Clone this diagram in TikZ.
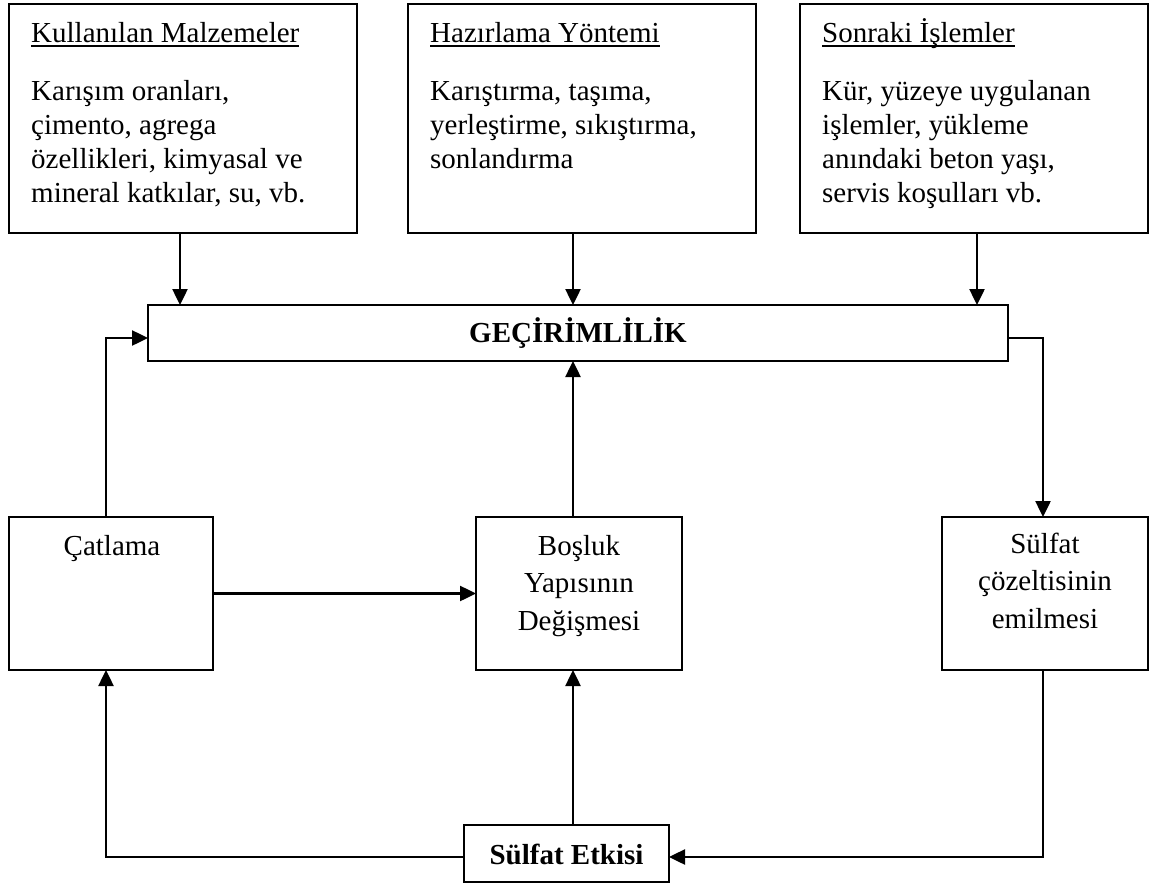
\documentclass[tikz,border=0pt]{standalone}
\usepackage{fontspec}
\setmainfont{Liberation Serif}
\usetikzlibrary{arrows.meta}
\newcommand\myul[1]{\setbox0\hbox{#1}\rlap{\rule[-4.5pt]{\wd0}{1.4pt}}\box0}
\tikzset{
  box/.style={draw=black, line width=1.6pt, rectangle, inner sep=0pt, outer sep=0pt},
  arr/.style={line width=2.5pt, -{Triangle[length=16pt,width=15pt]}},
  toptxt/.style={inner sep=0pt, anchor=north west, align=left, font=\fontsize{29}{34}\selectfont},
  midtxt/.style={inner sep=0pt, anchor=north, align=center, font=\fontsize{29}{37.5}\selectfont},
  boldtxt/.style={inner sep=0pt, anchor=base, font=\fontsize{29}{34}\selectfont\bfseries},
}
\begin{document}
\begin{tikzpicture}[x=1pt, y=-1pt]
\useasboundingbox (0,0) rectangle (1152,883);
% top boxes
\node[box, minimum width=348pt, minimum height=229pt] (m1) at (183,118.5) {};
\node[box, minimum width=348pt, minimum height=229pt] (m2) at (582,118.5) {};
\node[box, minimum width=348pt, minimum height=229pt] (m3) at (974,118.5) {};
\node[toptxt] (t1) at (31,16) {\rule{0pt}{26pt}\myul{Kullanılan Malzemeler}\\[24pt]
  Karışım oranları,\\çimento, agrega\\özellikleri, kimyasal ve\\mineral katkılar, su, vb.};
\node[toptxt] (t2) at (430,16) {\rule{0pt}{26pt}\myul{Hazırlama Yöntemi}\\[24pt]
  Karıştırma, taşıma,\\yerleştirme, sıkıştırma,\\sonlandırma};
\node[toptxt] (t3) at (822,16) {\rule{0pt}{26pt}\myul{Sonraki İşlemler}\\[24pt]
  Kür, yüzeye uygulanan\\işlemler, yükleme\\anındaki beton yaşı,\\servis koşulları vb.};
% central box
\node[box, minimum width=860pt, minimum height=56pt] (gec) at (578,333) {};
\node[boldtxt] (gect) at (578,342) {GEÇİRİMLİLİK};
% middle boxes
\node[box, minimum width=204pt, minimum height=153pt] (cat) at (111,593.5) {};
\node[midtxt] (catt) at (112,529) {\rule{0pt}{26pt}Çatlama};
\node[box, minimum width=206pt, minimum height=153pt] (bos) at (579,593.5) {};
\node[midtxt] (bost) at (579,529) {\rule{0pt}{26pt}Boşluk\\Yapısının\\Değişmesi};
\node[box, minimum width=206pt, minimum height=153pt] (sul) at (1045,593.5) {};
\node[midtxt] (sult) at (1045,527) {\rule{0pt}{26pt}Sülfat\\çözeltisinin\\emilmesi};
% bottom box
\node[box, minimum width=205pt, minimum height=57pt] (etk) at (566.5,853.5) {};
\node[boldtxt] (etkt) at (566.5,864) {Sülfat Etkisi};
% helper coordinates
\coordinate (c1) at (180,0);
\coordinate (c2) at (573,0);
\coordinate (c3) at (977,0);
\coordinate (v1) at (106,0);
\coordinate (v3) at (1043,0);
\coordinate (h1) at (0,338);
\coordinate (h2) at (0,857);
% connectors
\draw[arr] (m1.south -| c1) -- (gec.north -| c1);
\draw[arr] (m2.south -| c2) -- (gec.north -| c2);
\draw[arr] (m3.south -| c3) -- (gec.north -| c3);
\draw[arr] (cat.north -| v1) |- (gec.west |- h1);
\draw[arr] (cat.east) -- (bos.west);
\draw[arr] (bos.north -| c2) -- (gec.south -| c2);
\draw[arr] (gec.east |- h1) -| (sul.north -| v3);
\draw[arr] (sul.south -| v3) |- (etk.east |- h2);
\draw[arr] (etk.west |- h2) -| (cat.south -| v1);
\draw[arr] (etk.north -| c2) -- (bos.south -| c2);
\end{tikzpicture}
\end{document}
